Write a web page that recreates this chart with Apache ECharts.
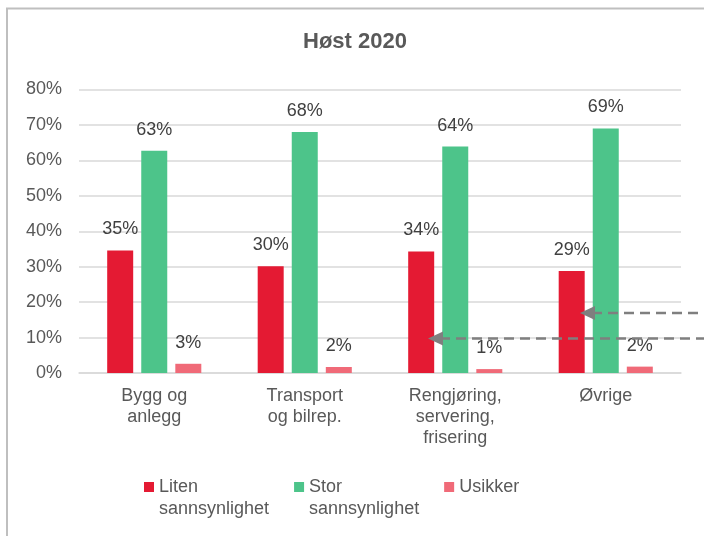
<!DOCTYPE html>
<html>
<head>
<meta charset="utf-8">
<script src="https://cdn.jsdelivr.net/npm/echarts@6/dist/echarts.min.js"></script>
<style>
html,body{margin:0;padding:0;background:#fff;}
#chart{width:704px;height:536px;}
</style>
</head>
<body>
<div id="chart"></div>
<script>
var categories = ['Bygg og\nanlegg', 'Transport\nog bilrep.', 'Rengjøring,\nservering,\nfrisering', 'Øvrige'];
var seriesNames = ['Liten\nsannsynlighet', 'Stor\nsannsynlighet', 'Usikker'];
var litenValues = [34.6, 30.1, 34.3, 28.8];
var storValues = [62.7, 68.0, 63.9, 69.0];
var usikkerValues = [2.6, 1.7, 1.1, 1.8];
var yTicks = [0, 10, 20, 30, 40, 50, 60, 70, 80];

var FONT = '"Liberation Sans", Arial, sans-serif';
var chart = echarts.init(document.getElementById('chart'), null, {renderer: 'canvas'});

function barSeries(name, data, color) {
  return {
    name: name,
    type: 'bar',
    data: data,
    barWidth: 26,
    barGap: '31%',
    itemStyle: {color: color},
    label: {
      show: true,
      position: 'top',
      distance: 12,
      fontFamily: FONT,
      fontSize: 18,
      color: '#404040',
      formatter: function (p) { return Math.round(p.value) + '%'; }
    }
  };
}

function arrow(y, tipX) {
  return [
    {type: 'line', shape: {x1: tipX + 12, y1: y, x2: 720, y2: y},
     style: {stroke: '#7f7f7f', lineWidth: 2.5, lineDash: [10, 6]}, z: 100},
    {type: 'polygon', shape: {points: [[tipX, y], [tipX + 15, y - 7], [tipX + 15, y + 7]]},
     style: {fill: '#7f7f7f'}, z: 100}
  ];
}

// square on top, invisible sliver at the bottom so the icon lines up with the first text line
var legendIcon = 'path://M0,0h10v10h-10zM0,31.99h10v0.01h-10z';

var option = {
  backgroundColor: '#ffffff',
  animation: false,
  textStyle: {fontFamily: FONT},
  title: {
    text: 'Høst 2020',
    left: 303,
    top: 31,
    padding: 0,
    textStyle: {fontFamily: FONT, fontSize: 22, fontWeight: 'bold', color: '#595959'}
  },
  legend: {
    data: seriesNames,
    left: 144,
    top: 476,
    padding: 0,
    itemWidth: 10,
    itemHeight: 32,
    itemGap: 25,
    icon: legendIcon,
    formatter: function (n) { return n.indexOf('\n') < 0 ? n + '\n ' : n; },
    textStyle: {fontFamily: FONT, fontSize: 18, color: '#595959', lineHeight: 22}
  },
  grid: {left: 79, right: 23, top: 89.5, bottom: 163},
  xAxis: {
    type: 'category',
    data: categories,
    axisTick: {show: false},
    axisLine: {lineStyle: {color: '#d9d9d9', width: 1.5}},
    axisLabel: {fontFamily: FONT, fontSize: 18, color: '#595959', lineHeight: 21, margin: 13, interval: 0}
  },
  yAxis: {
    type: 'value',
    min: yTicks[0],
    max: yTicks[yTicks.length - 1],
    interval: yTicks[1] - yTicks[0],
    axisLine: {show: false},
    axisTick: {show: false},
    splitLine: {lineStyle: {color: '#d9d9d9', width: 1.5}},
    axisLabel: {fontFamily: FONT, fontSize: 18, color: '#595959', margin: 17, formatter: '{value}%'}
  },
  series: [
    barSeries(seriesNames[0], litenValues, '#e41a33'),
    barSeries(seriesNames[1], storValues, '#4dc48a'),
    barSeries(seriesNames[2], usikkerValues, '#f06a78')
  ],
  graphic: [
    {type: 'rect', shape: {x: 7, y: 8.5, width: 800, height: 600},
     style: {fill: 'none', stroke: '#bfbfbf', lineWidth: 2}, z: -10, silent: true}
  ].concat(arrow(313, 580)).concat(arrow(338.5, 428))
};
chart.setOption(option);
</script>
</body>
</html>
